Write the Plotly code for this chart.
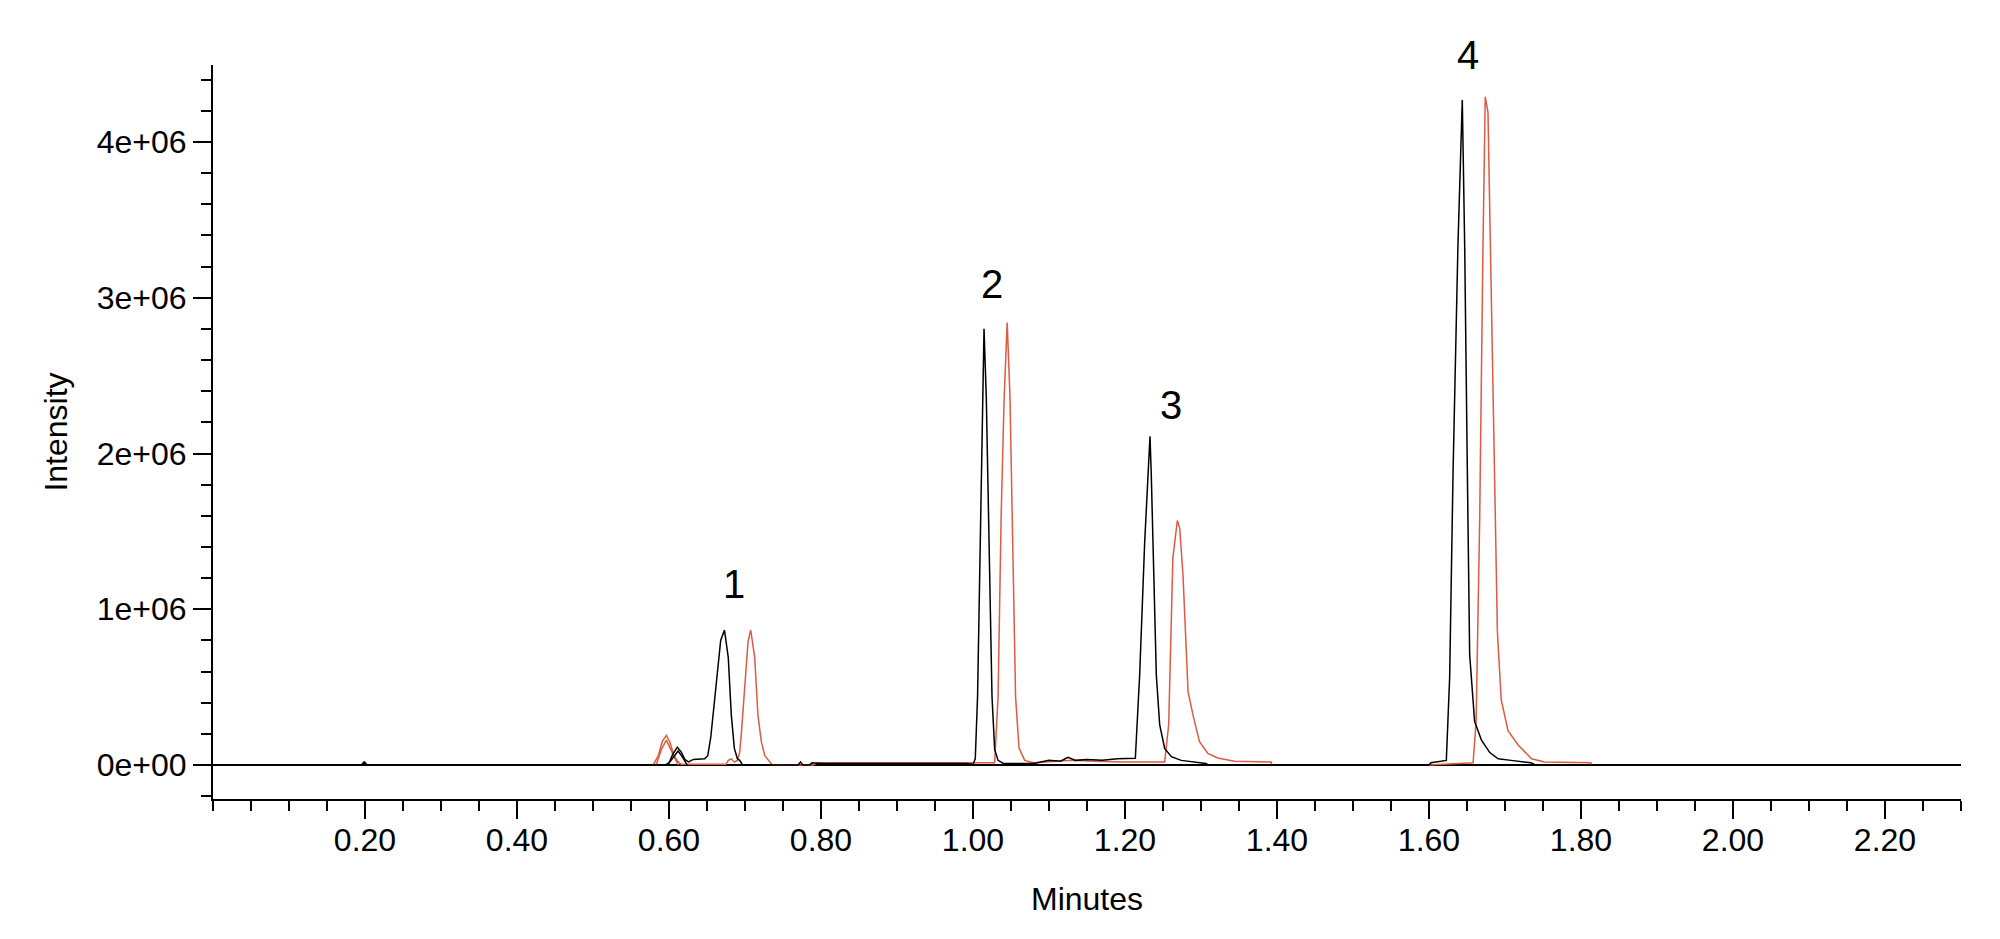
import plotly.graph_objects as go

# retention time (min) and intensity (x 1e6)
black_t = [0.00, 0.195, 0.199, 0.203, 0.595, 0.600, 0.605, 0.611, 0.616, 0.621, 0.626, 0.632,
           0.647, 0.651, 0.655, 0.658, 0.664, 0.668, 0.673, 0.678, 0.682, 0.686, 0.690, 0.693,
           0.697, 0.770, 0.773, 0.776, 0.785, 0.788, 0.800, 0.990, 1.000, 1.003, 1.006, 1.0097,
           1.0123, 1.0145, 1.0175, 1.021, 1.025, 1.0285, 1.033, 1.040, 1.080, 1.100, 1.115,
           1.125, 1.135, 1.150, 1.170, 1.190, 1.2136, 1.2193, 1.2259, 1.2303, 1.2329, 1.2346,
           1.2382, 1.2412, 1.2456, 1.2522, 1.261, 1.274, 1.3066, 1.310, 1.600, 1.6026, 1.6228,
           1.6272, 1.6316, 1.638, 1.6438, 1.647, 1.6505, 1.6535, 1.660, 1.669, 1.680, 1.691,
           1.708, 1.734, 1.740, 2.300]
black_i = [0, 0, 0.02, 0, 0, 0.015, 0.07, 0.114, 0.085, 0.035, 0.02, 0.036,
           0.04, 0.06, 0.18, 0.32, 0.64, 0.80, 0.867, 0.69, 0.32, 0.107, 0.04, 0.03,
           0, 0, 0.02, 0, 0, 0.015, 0.01, 0.01, 0.005, 0.04, 0.44, 1.59,
           2.36, 2.80, 2.36, 1.40, 0.44, 0.10, 0.03, 0.01, 0.01, 0.03, 0.025,
           0.05, 0.03, 0.035, 0.03, 0.04, 0.043, 0.58, 1.43, 1.86, 2.11, 1.86,
           1.22, 0.58, 0.26, 0.107, 0.054, 0.03, 0.01, 0, 0, 0.015, 0.03,
           0.565, 1.87, 3.32, 4.27, 3.32, 1.87, 0.71, 0.28, 0.16, 0.08, 0.04,
           0.03, 0.015, 0, 0]

red_t = [0.579, 0.586, 0.591, 0.5965, 0.601, 0.606, 0.611, 0.616, 0.675, 0.678, 0.682, 0.686,
         0.690, 0.693, 0.695, 0.6996, 0.704, 0.7075, 0.7128, 0.717, 0.7215, 0.726, 0.7325,
         0.736, 0.790, 0.795, 0.990, 1.0285, 1.033, 1.037, 1.041, 1.045, 1.0487, 1.0526,
         1.056, 1.0605, 1.068, 1.080, 1.100, 1.130, 1.160, 1.200, 1.250, 1.2522, 1.2575,
         1.260, 1.263, 1.2689, 1.272, 1.2763, 1.283, 1.2895, 1.298, 1.309, 1.322, 1.344,
         1.3925, 1.393, None,
         1.600, 1.620, 1.655, 1.658, 1.662, 1.6667, 1.671, 1.674, 1.6776, 1.682, 1.6855,
         1.690, 1.695, 1.704, 1.717, 1.735, 1.752, 1.796, 1.813, 1.814]
red_i = [0, 0.06, 0.15, 0.19, 0.15, 0.07, 0.025, 0.005, 0.005, 0.03, 0.04, 0.02,
         0.03, 0.08, 0.19, 0.53, 0.79, 0.867, 0.69, 0.32, 0.15, 0.06, 0.02,
         0, 0, 0.015, 0.015, 0.015, 0.44, 1.59, 2.36, 2.84, 2.36, 1.40,
         0.44, 0.11, 0.03, 0.015, 0.02, 0.03, 0.025, 0.02, 0.02, 0.02, 0.26,
         0.79, 1.33, 1.57, 1.52, 1.22, 0.47, 0.32, 0.15, 0.075, 0.045, 0.025,
         0.02, 0, None,
         0, 0.005, 0.01, 0.015, 0.28, 1.58, 3.32, 4.29, 4.19, 3.03, 1.87,
         0.855, 0.42, 0.22, 0.13, 0.04, 0.02, 0.015, 0.015, 0]

# second transitions around 0.6 min
black2_t = [0.598, 0.606, 0.612, 0.618, 0.624]
black2_i = [0, 0.05, 0.09, 0.05, 0]
red2_t = [0.583, 0.590, 0.5965, 0.602, 0.612]
red2_i = [0, 0.10, 0.16, 0.10, 0]

peak_labels = ["1", "2", "3", "4"]
peak_label_t = [0.686, 1.025, 1.261, 1.651]
peak_label_i = [1.16, 3.09, 2.31, 4.56]

y_ticks = [0, 1, 2, 3, 4]
y_ticktext = ["0e+00", "1e+06", "2e+06", "3e+06", "4e+06"]
x_ticks = [0.2, 0.4, 0.6, 0.8, 1.0, 1.2, 1.4, 1.6, 1.8, 2.0, 2.2]

SCALE = 1e6
Y_MIN, Y_MAX = -0.218, 4.494
RED = "#DD5A43"
FONT = "Liberation Sans, Arial, sans-serif"


def scaled(vals):
    return [None if v is None else v * SCALE for v in vals]


fig = go.Figure()
for t, i, c in [(red_t, red_i, RED), (red2_t, red2_i, RED),
                (black_t, black_i, "black"), (black2_t, black2_i, "black")]:
    fig.add_trace(go.Scatter(x=t, y=scaled(i), mode="lines",
                             line=dict(color=c, width=1.5), connectgaps=False,
                             showlegend=False, hoverinfo="skip"))

# peak numbers (paper y so the top one is not culled above the axis range)
for lab, t, i in zip(peak_labels, peak_label_t, peak_label_i):
    fig.add_annotation(x=t, xref="x", y=(i - Y_MIN) / (Y_MAX - Y_MIN), yref="paper",
                       xanchor="center", yanchor="middle",
                       text=lab, showarrow=False,
                       font=dict(size=40, color="black", family=FONT))

fig.update_layout(
    width=2000, height=939,
    margin=dict(l=205, r=47, t=57, b=148),
    plot_bgcolor="white", paper_bgcolor="white",
    font=dict(family=FONT, size=32, color="black"),
    xaxis=dict(
        range=[0, 2.30], showgrid=False, zeroline=False,
        showline=True, linecolor="black", linewidth=2,
        tickmode="array", tickvals=x_ticks, ticktext=["%.2f" % v for v in x_ticks],
        ticks="outside", ticklen=18, tickwidth=2, tickcolor="black",
        ticklabelstandoff=-6,
        minor=dict(tickmode="linear", tick0=0, dtick=0.05, ticks="outside",
                   ticklen=10, tickwidth=2, tickcolor="black", showgrid=False),
        title=dict(text="Minutes", standoff=30, font=dict(size=32)),
        automargin=False,
    ),
    yaxis=dict(
        range=[Y_MIN * SCALE, Y_MAX * SCALE], showgrid=False,
        zeroline=True, zerolinecolor="black", zerolinewidth=2,
        showline=True, linecolor="black", linewidth=2,
        tickmode="array", tickvals=[v * SCALE for v in y_ticks], ticktext=y_ticktext,
        ticks="outside", ticklen=18, tickwidth=2, tickcolor="black",
        minor=dict(tickmode="linear", tick0=0, dtick=0.2 * SCALE, ticks="outside",
                   ticklen=10, tickwidth=2, tickcolor="black", showgrid=False),
        title=dict(text="Intensity", standoff=20, font=dict(size=32)),
        automargin=False,
    ),
)

fig.write_html("out.html")
